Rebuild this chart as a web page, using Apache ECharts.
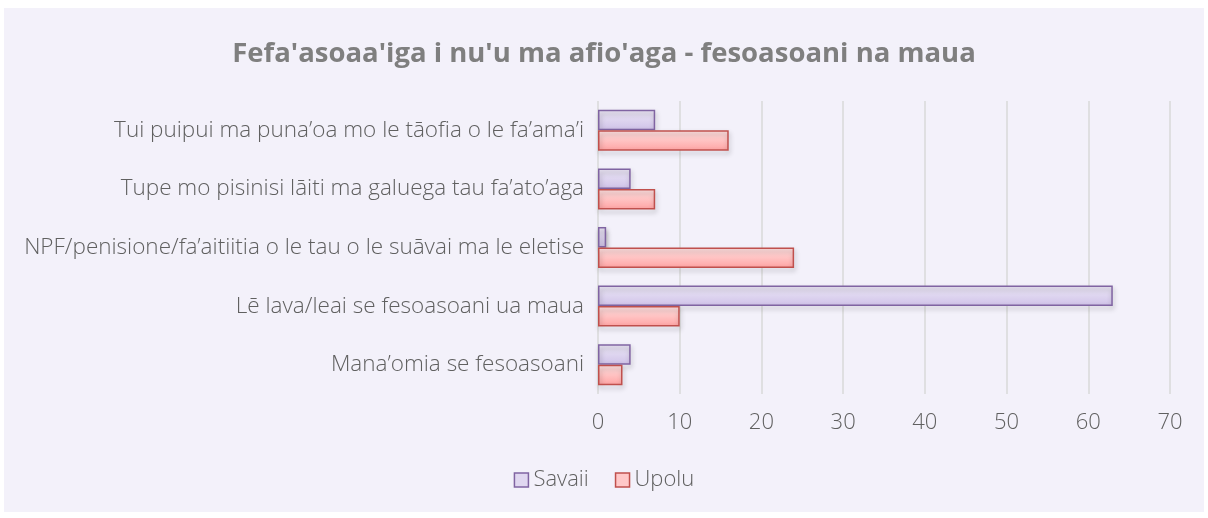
<!DOCTYPE html>
<html>
<head>
<meta charset="utf-8">
<script src="https://cdn.jsdelivr.net/npm/echarts@6/dist/echarts.min.js"></script>
<style>
  html, body { margin: 0; padding: 0; background: #ffffff; }
  #main { position: absolute; left: 4px; top: 8px; width: 1200px; height: 504px; background: #f3f1fa; }
</style>
</head>
<body>
<div id="main"></div>
<script>
const categories = [
  'Mana\u2019omia se fesoasoani',
  'L\u0113 lava/leai se fesoasoani ua maua',
  'NPF/penisione/fa\u2019aitiitia o le tau o le su\u0101vai ma le eletise',
  'Tupe mo pisinisi l\u0101iti ma galuega tau fa\u2019ato\u2019aga',
  'Tui puipui ma puna\u2019oa mo le t\u0101ofia o le fa\u2019ama\u2019i'
];
const savaii = [4, 63, 1, 4, 7];
const upolu = [3, 10, 24, 7, 16];
const xTicks = [0, 10, 20, 30, 40, 50, 60, 70];

const chartDom = document.getElementById('main');
const myChart = echarts.init(chartDom);

const font = "'Open Sans', sans-serif";
const textGrey = '#606060';

function grad(top, bottom) {
  return new echarts.graphic.LinearGradient(0, 0, 0, 1, [
    { offset: 0, color: top },
    { offset: 1, color: bottom }
  ]);
}

const option = {
  backgroundColor: 'transparent',
  title: {
    text: "Fefa'asoaa'iga i nu'u ma afio'aga - fesoasoani na maua",
    left: 'center',
    top: 27,
    textStyle: { color: '#7f7f7f', fontWeight: 'bold', fontSize: 27.5, fontFamily: font }
  },
  legend: {
    top: 456,
    left: 'center',
    itemWidth: 14,
    itemHeight: 14,
    itemGap: 26,
    textStyle: { color: textGrey, fontSize: 22, fontWeight: 300, fontFamily: font },
    data: [
      { name: 'Savaii', icon: 'rect', itemStyle: { color: '#e0d7f0', borderColor: '#8064a2', borderWidth: 1.5 } },
      { name: 'Upolu', icon: 'rect', itemStyle: { color: '#ffc8c8', borderColor: '#c0504d', borderWidth: 1.5 } }
    ]
  },
  grid: { left: 594, right: 34, top: 93, bottom: 118 },
  xAxis: {
    type: 'value',
    min: 0,
    max: 70,
    interval: 10,
    axisLine: { show: false },
    axisTick: { show: false },
    axisLabel: {
      color: textGrey, fontSize: 22, fontWeight: 300, fontFamily: font, margin: 18,
      formatter: v => xTicks.includes(v) ? String(v) : ''
    },
    splitLine: { lineStyle: { color: '#d9d9d9', width: 1.5 } }
  },
  yAxis: {
    type: 'category',
    data: categories,
    axisLine: { show: false },
    axisTick: { show: false },
    axisLabel: { color: textGrey, fontSize: 22.5, fontWeight: 300, fontFamily: font, margin: 14 }
  },
  series: [
    {
      name: 'Savaii',
      type: 'bar',
      data: savaii,
      barGap: '0%',
      barCategoryGap: '30%',
      itemStyle: {
        color: grad('#ede8f7', '#cfc2e8'),
        borderColor: '#8064a2',
        borderWidth: 1.5,
        shadowColor: 'rgba(0,0,0,0.3)',
        shadowBlur: 5,
        shadowOffsetY: 3,
        shadowOffsetX: 1
      }
    },
    {
      name: 'Upolu',
      type: 'bar',
      data: upolu,
      itemStyle: {
        color: grad('#ffe2e2', '#ffa3a3'),
        borderColor: '#c0504d',
        borderWidth: 1.5,
        shadowColor: 'rgba(0,0,0,0.3)',
        shadowBlur: 5,
        shadowOffsetY: 3,
        shadowOffsetX: 1
      }
    }
  ]
};

myChart.setOption(option);
</script>
</body>
</html>
